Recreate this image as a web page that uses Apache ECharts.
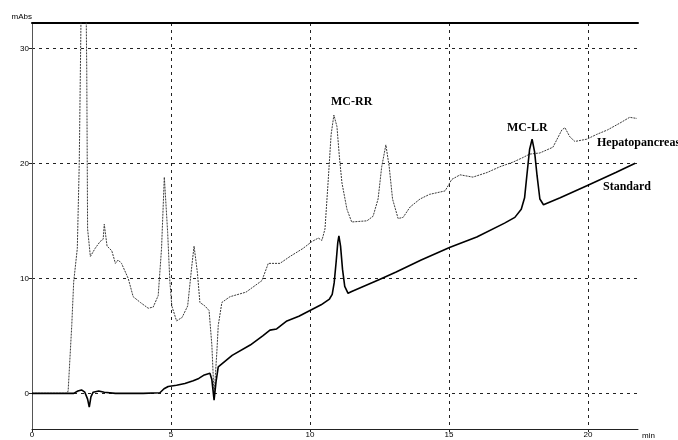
<!DOCTYPE html>
<html>
<head>
<meta charset="utf-8">
<script src="https://cdn.jsdelivr.net/npm/echarts@6/dist/echarts.min.js"></script>
<style>
  html, body { margin: 0; padding: 0; background: #fff; }
  #chart { width: 678px; height: 440px; }
</style>
</head>
<body>
<div id="chart"></div>
<script>
// Retention time (min) and absorbance (mAbs) for the standard run
const standardTime = [0, 1.5, 1.65, 1.78, 1.9, 2.0, 2.06, 2.12, 2.2, 2.4, 2.6, 3.0, 4.0, 4.6, 4.75, 4.9, 5.2, 5.5, 5.8, 6.0, 6.2, 6.4, 6.47, 6.55, 6.62, 6.7, 7.2, 7.85, 8.3, 8.56, 8.8, 9.17, 9.6, 10.0, 10.4, 10.7, 10.8, 10.87, 10.94, 11.0, 11.04, 11.1, 11.17, 11.25, 11.37, 11.5, 12.5, 13.1, 14.0, 15.04, 16.0, 17.0, 17.37, 17.6, 17.72, 17.8, 17.9, 17.99, 18.08, 18.17, 18.27, 18.4, 19.0, 20.0, 21.0, 21.7];
const standardAbs  = [0, 0, 0.2, 0.3, 0.1, -0.5, -1.2, -0.3, 0.1, 0.2, 0.1, 0, 0, 0.05, 0.4, 0.6, 0.7, 0.85, 1.1, 1.3, 1.6, 1.75, 1.2, -0.6, 1.0, 2.3, 3.3, 4.2, 5.0, 5.5, 5.6, 6.3, 6.7, 7.2, 7.7, 8.2, 8.6, 9.6, 11.4, 13.1, 13.7, 12.8, 10.8, 9.3, 8.7, 8.85, 9.9, 10.55, 11.6, 12.7, 13.6, 14.8, 15.3, 16.0, 17.0, 18.9, 21.2, 22.1, 21.0, 18.9, 16.9, 16.4, 17.0, 18.1, 19.2, 20.0];

// Retention time (min) and absorbance (mAbs) for the hepatopancreas extract
const hepTime = [0, 1.25, 1.3, 1.43, 1.5, 1.63, 1.7, 1.75, 1.8, 1.92, 1.97, 2.0, 2.1, 2.27, 2.45, 2.56, 2.6, 2.7, 2.87, 3.0, 3.1, 3.22, 3.46, 3.64, 3.9, 4.18, 4.36, 4.54, 4.66, 4.76, 4.88, 4.96, 5.03, 5.2, 5.4, 5.6, 5.75, 5.83, 5.95, 6.04, 6.22, 6.37, 6.47, 6.55, 6.65, 6.7, 6.83, 7.12, 7.7, 8.27, 8.5, 8.92, 9.28, 9.75, 10.07, 10.3, 10.43, 10.54, 10.65, 10.76, 10.86, 10.97, 11.06, 11.15, 11.33, 11.5, 12.05, 12.27, 12.45, 12.58, 12.73, 12.85, 12.97, 13.17, 13.35, 13.6, 13.96, 14.3, 14.86, 15.1, 15.4, 15.86, 16.37, 16.83, 17.3, 17.66, 17.9, 18.27, 18.74, 19.06, 19.17, 19.35, 19.53, 19.96, 20.3, 20.7, 21.15, 21.5, 21.76];
const hepAbs  = [0, 0, 0.2, 5.9, 9.7, 12.6, 20, 30, 40, 40, 28, 14.3, 11.9, 12.6, 13.2, 13.4, 14.7, 12.8, 12.4, 11.3, 11.6, 11.3, 10.0, 8.4, 7.9, 7.4, 7.5, 8.5, 12.6, 18.8, 14.0, 9.7, 7.6, 6.3, 6.6, 7.6, 11.1, 12.8, 10.5, 7.9, 7.6, 7.2, 4.2, -0.2, 3.6, 5.9, 7.9, 8.4, 8.8, 9.8, 11.3, 11.3, 11.9, 12.6, 13.2, 13.5, 13.3, 14.3, 18.3, 22.5, 24.2, 23.2, 20.5, 18.3, 16.0, 14.9, 15.0, 15.4, 16.9, 19.7, 21.6, 19.7, 16.9, 15.2, 15.3, 16.2, 16.9, 17.3, 17.6, 18.6, 19.0, 18.8, 19.2, 19.7, 20.1, 20.5, 20.8, 20.9, 21.4, 22.9, 23.1, 22.3, 21.9, 22.1, 22.5, 22.9, 23.5, 24.0, 23.9];

// Axis tick values
const timeTicks = [0, 5, 10, 15, 20];
const absTicks = [0, 10, 20, 30];

const zip = (xs, ys) => xs.map((x, i) => [x, ys[i]]);
const tickLabel = ticks => v => (ticks.indexOf(Math.round(v * 1000) / 1000) >= 0 ? String(v) : '');

const gridDash = { color: '#222', width: 1, type: [3, 4] };
const axisFont = { fontFamily: 'Liberation Sans', fontSize: 8, color: '#000' };
const tagFont = { fontFamily: 'Liberation Serif', fontWeight: 'bold', fontSize: 12, fill: '#000' };

const chart = echarts.init(document.getElementById('chart'), null, { renderer: 'canvas' });
chart.setOption({
  animation: false,
  backgroundColor: '#fff',
  grid: { left: 32, right: 40, top: 23, bottom: 9, containLabel: false },
  xAxis: [{
    type: 'value', min: 0, max: 21.8, interval: 5,
    name: 'min', nameLocation: 'end', nameGap: 4,
    nameTextStyle: Object.assign({ verticalAlign: 'top', padding: [3, 0, 0, 0] }, axisFont),
    axisLine: { onZero: false, lineStyle: { color: '#222', width: 1 } },
    axisTick: { show: true, length: 3, lineStyle: { color: '#222' } },
    axisLabel: Object.assign({ margin: 2, formatter: tickLabel(timeTicks), showMaxLabel: false }, axisFont),
    splitLine: { show: true, showMinLine: false, showMaxLine: false, lineStyle: gridDash }
  }, {
    type: 'value', min: 0, max: 21.8, position: 'top',
    axisLine: { show: true, onZero: false, lineStyle: { color: '#000', width: 2 } },
    axisTick: { show: false }, axisLabel: { show: false }, splitLine: { show: false }
  }],
  yAxis: {
    type: 'value', min: -3.1, max: 32.2,
    name: 'mAbs', nameLocation: 'end', nameGap: 2,
    nameTextStyle: Object.assign({ align: 'right', verticalAlign: 'bottom', padding: [0, 0, 0, 0] }, axisFont),
    axisLine: { show: true, onZero: false, lineStyle: { color: '#555', width: 1 } },
    axisTick: { show: true, length: 3, customValues: absTicks, lineStyle: { color: '#222' } },
    axisLabel: Object.assign({ margin: 3, customValues: absTicks }, axisFont),
    splitLine: { show: true, lineStyle: gridDash }
  },
  series: [{
    name: 'Hepatopancreas', type: 'line', xAxisIndex: 0,
    data: zip(hepTime, hepAbs), symbol: 'none', clip: true,
    lineStyle: { color: '#3a3a3a', width: 1, type: [2, 1] }
  }, {
    name: 'Standard', type: 'line', xAxisIndex: 0,
    data: zip(standardTime, standardAbs), symbol: 'none', clip: true,
    lineStyle: { color: '#000', width: 1.6 }
  }],
  graphic: [
    { type: 'text', left: 331, top: 96, style: Object.assign({ text: 'MC-RR' }, tagFont) },
    { type: 'text', left: 507, top: 122, style: Object.assign({ text: 'MC-LR' }, tagFont) },
    { type: 'text', left: 597, top: 137, style: Object.assign({ text: 'Hepatopancreas' }, tagFont) },
    { type: 'text', left: 603, top: 181, style: Object.assign({ text: 'Standard' }, tagFont) }
  ]
});
</script>
</body>
</html>
